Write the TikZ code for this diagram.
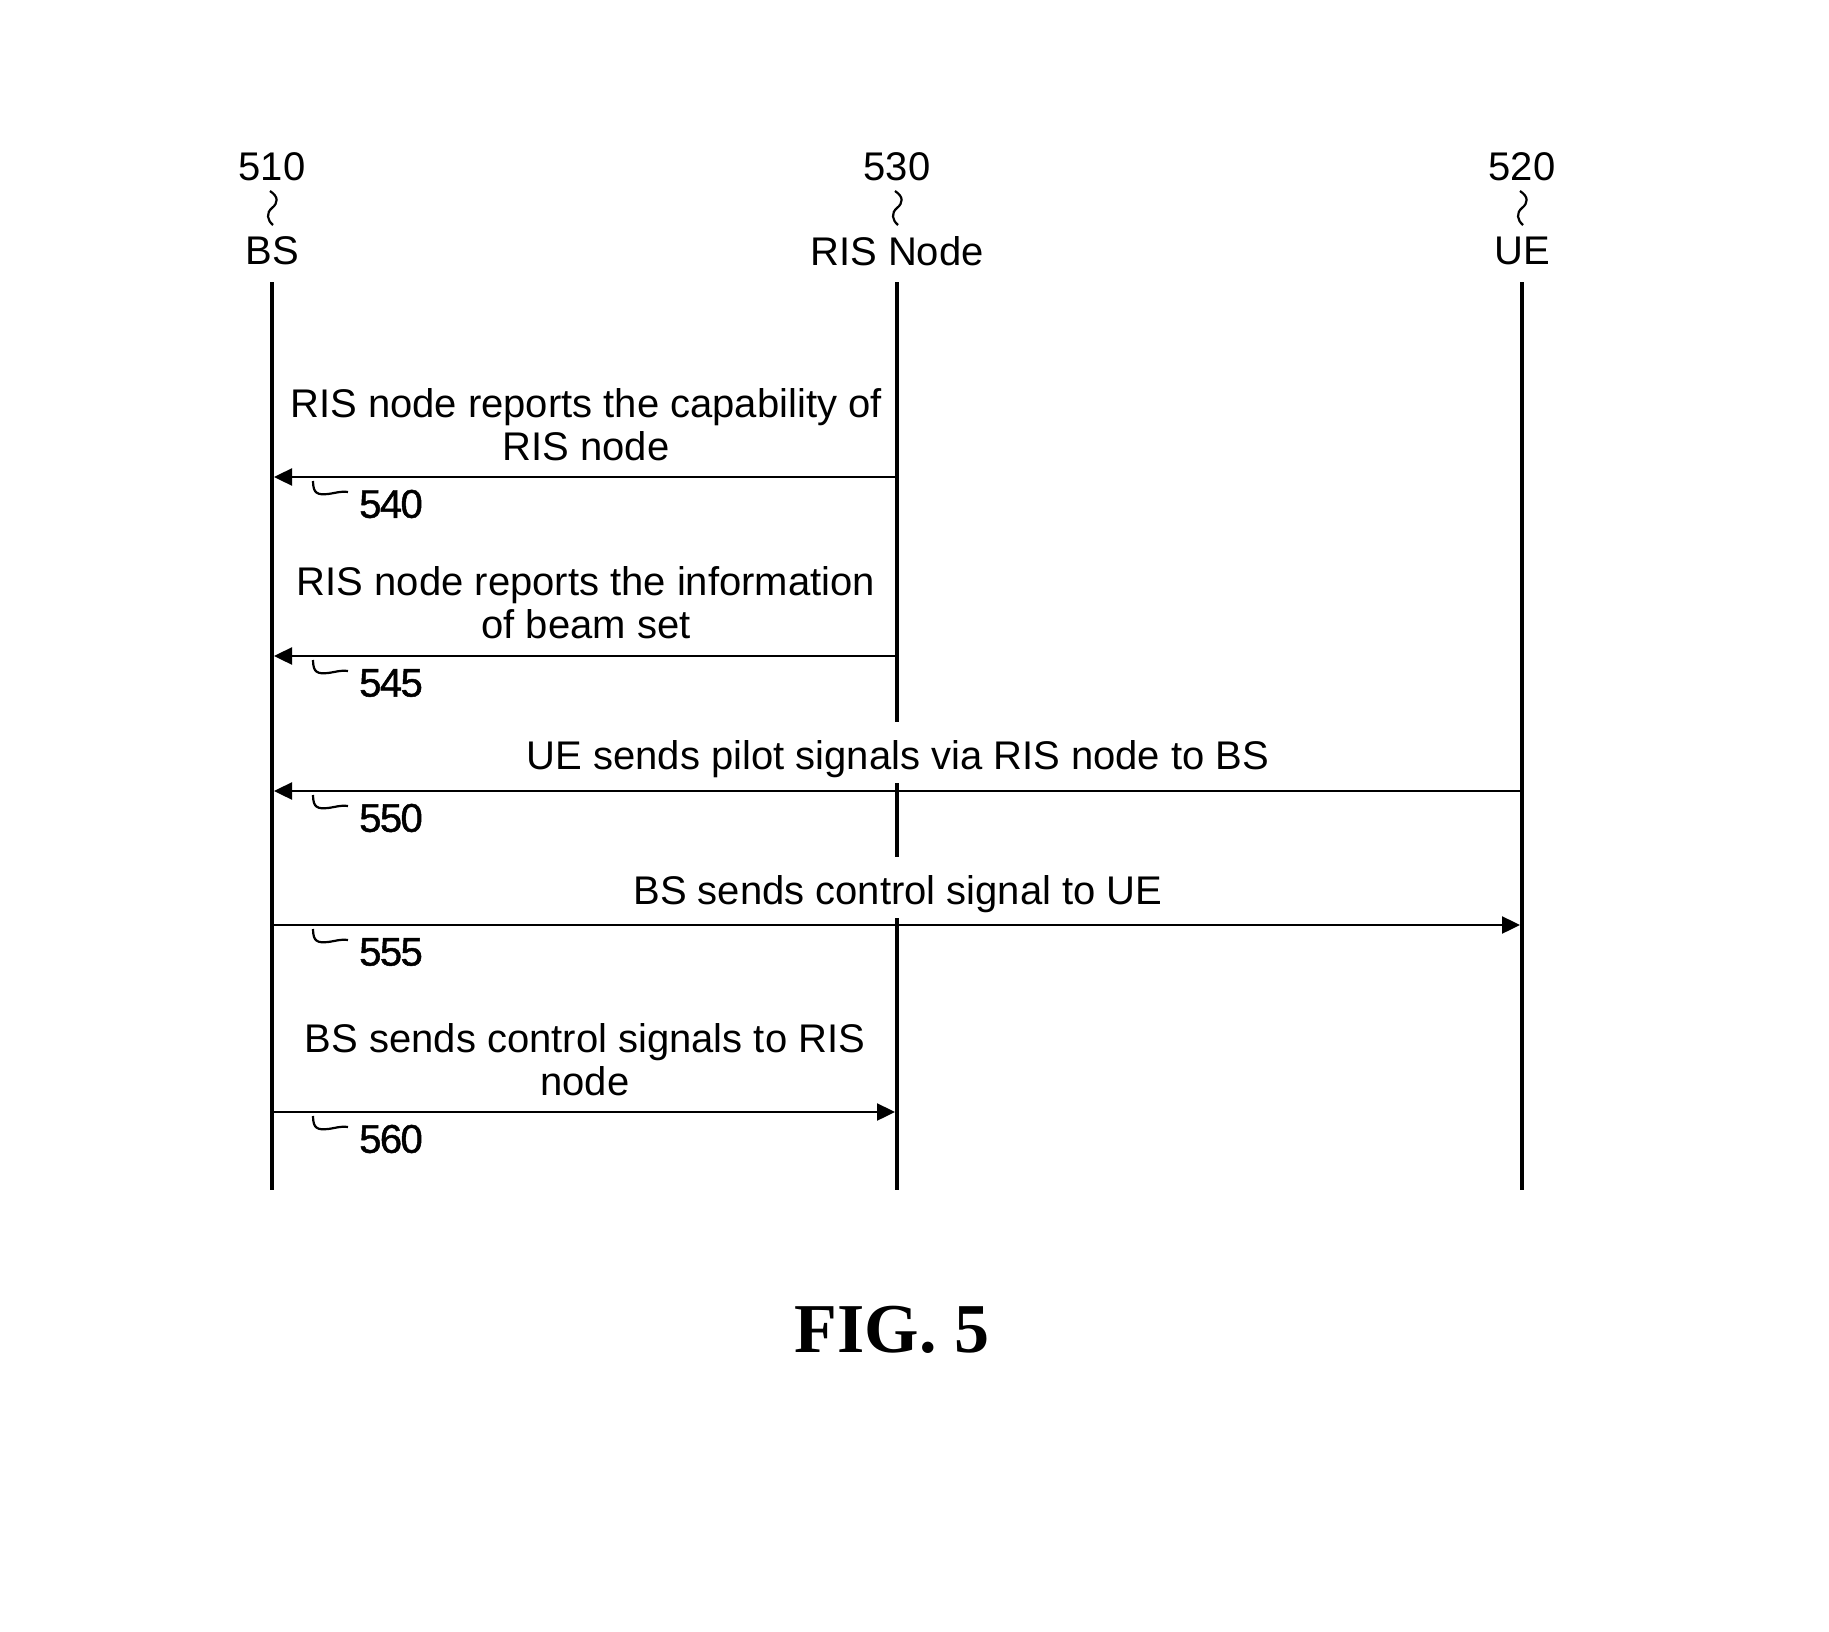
\documentclass[tikz,border=0pt]{standalone}
\usepackage{fontspec}
\setmainfont{Liberation Sans}
\newfontfamily\figfont{Liberation Serif}
\newfontfamily\numfont[FakeBold=1.2,LetterSpace=-4]{Liberation Sans}
\usetikzlibrary{arrows.meta}
\begin{document}
\begin{tikzpicture}[x=1pt,y=-1pt,
  lbl/.style={font=\fontsize{40}{44}\selectfont, inner sep=0pt, align=center},
  numlbl/.style={font=\numfont\fontsize{40}{44}\selectfont, inner sep=0pt},
  life/.style={line width=4.5pt},
  msg/.style={line width=2.4pt, -{Triangle[length=18pt,width=17pt]}, shorten >=2pt},
  sq/.style={line width=2.2pt},
  mtext/.style={font=\fontsize{40}{43}\selectfont, align=center, inner sep=0pt},
  gaptext/.style={font=\fontsize{40}{43}\selectfont, fill=white, inner xsep=0pt, inner ysep=0pt, text height=47pt, text depth=14pt}
]
\useasboundingbox (0,0) rectangle (1829,1632);
% headers
\foreach \nm/\num/\lab/\x in {bs/510/BS/272, ris/530/RIS Node/897, ue/520/UE/1522}{
  \node[lbl] (\nm num) at (\x,167) {\num};
  \node[lbl] (\nm) at (\x,251) {\lab};
  \draw[sq] (\x-2,191) .. controls (\x+7,197) and (\x+6,203) .. (\x,208) .. controls (\x-6,213) and (\x-5,220) .. (\x+1,225);
  \coordinate (\nm top) at (\x,282);
  \coordinate (\nm end) at (\x,1190);
  \draw[life] (\nm top) -- (\nm end);
}
% message anchor points
\foreach \nm/\x in {bs/272, ris/897, ue/1522}{
  \coordinate (\nm540) at (\x,477);
  \coordinate (\nm545) at (\x,656);
  \coordinate (\nm550) at (\x,791);
  \coordinate (\nm555) at (\x,925);
  \coordinate (\nm560) at (\x,1112);
}
% messages
\draw[msg] (ris540) -- (bs540);
\draw[msg] (ris545) -- (bs545);
\draw[msg] (ue550) -- (bs550);
\draw[msg] (bs555) -- (ue555);
\draw[msg] (bs560) -- (ris560);
% message texts
\node[mtext] (t540) at (586,425) {RIS node reports the capability of\\RIS node};
\node[mtext] (t545) at (586,603) {RIS node reports the information\\of beam set};
\node[gaptext] (t550) at (898,752.5) {UE sends pilot signals via RIS node to BS};
\node[gaptext] (t555) at (898,887.5) {BS sends control signal to UE};
\node[mtext] (t560) at (585,1060) {BS sends control signals to RIS\\node};
% step labels with hooks
\foreach \s/\y in {540/477, 545/656, 550/791, 555/925, 560/1112}{
  \node[numlbl] (l\s) at (391,\y+27) {\s};
  \draw[sq] (313,\y+4) .. controls (313,\y+17) and (318,\y+18) .. (328,\y+17) .. controls (336,\y+16) and (340,\y+14) .. (348,\y+15);
}
\node[font=\figfont\bfseries\fontsize{70}{84}\selectfont, inner sep=0pt] (fig) at (892,1330) {FIG. 5};
\end{tikzpicture}
\end{document}
